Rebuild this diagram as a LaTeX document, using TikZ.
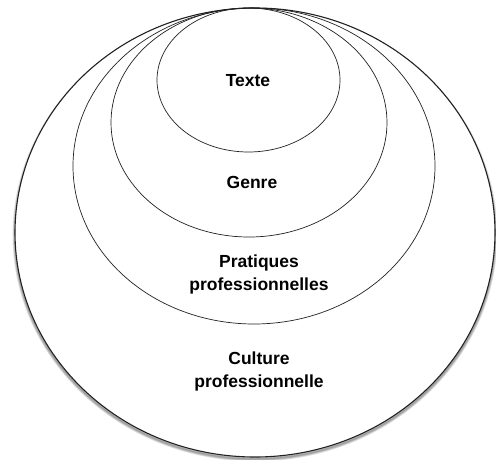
\documentclass[tikz,border=0pt]{standalone}
\usepackage{fontspec}
\setmainfont{Liberation Sans}
\usepackage{tikz}
\usetikzlibrary{positioning,shapes.geometric}
\definecolor{ink}{HTML}{222222}
\tikzset{
  ring/.style={ellipse, draw=ink, line width=0.7pt, inner sep=0pt},
  outerring/.style={ellipse, draw=ink, line width=1.1pt, fill=white, inner sep=0pt},
  tag/.style={align=center, font=\fontsize{17.5}{23}\selectfont\bfseries, text=black}
}
\begin{document}
\begin{tikzpicture}[x=1pt, y=1pt]
\useasboundingbox (0,0) rectangle (496,-459);
% soft shadow under the outer ring
\foreach \k in {1,...,5}
  \draw[black, opacity=0.09, line width=\k pt] (255,-235) ellipse (240 and 224);
\node[outerring, minimum width=480pt, minimum height=449pt] (cultureRing) at (255,-232.5) {};
\node[ring, minimum width=362pt, minimum height=316pt] (pratiquesRing) at (254,-166) {};
\node[ring, minimum width=276pt, minimum height=229pt] (genreRing) at (249,-122.5) {};
\node[ring, minimum width=183pt, minimum height=144pt] (texteRing) at (248.5,-80) {};
\node[tag] (texte) at (248,-81) {Texte};
\node[tag] (genre) at (252,-182) {Genre};
\node[tag] (pratiques) at (259,-274) {Pratiques\\professionnelles};
\node[tag] (culture) at (259,-371) {Culture\\professionnelle};
\end{tikzpicture}
\end{document}
